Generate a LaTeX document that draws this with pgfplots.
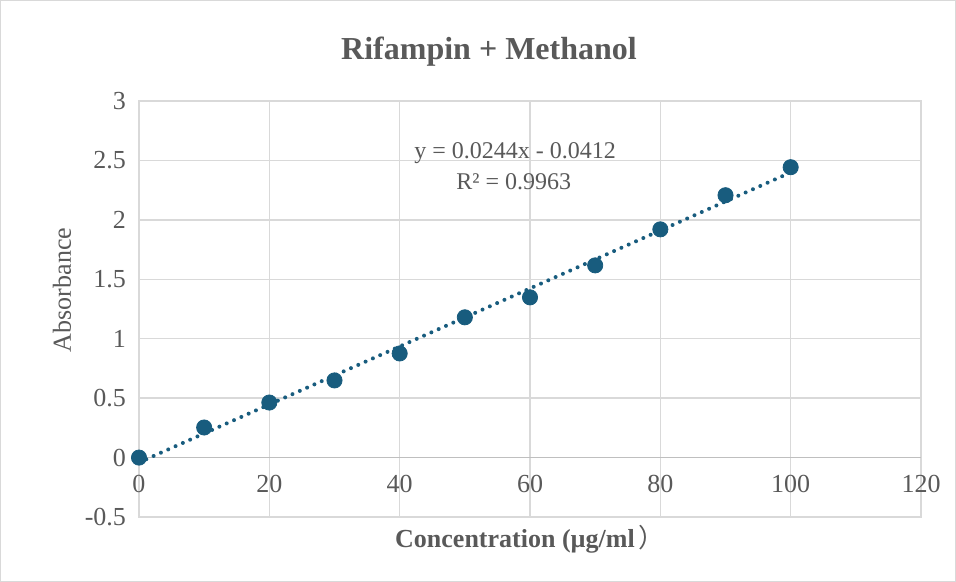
\documentclass[border=0pt]{standalone}
\usepackage{fontspec}
\setmainfont{Liberation Serif}
\newfontfamily\cjk{Noto Sans CJK SC}
\usepackage{pgfplots}
\pgfplotsset{compat=1.18}
\definecolor{txt}{HTML}{595959}
\definecolor{grd}{HTML}{D9D9D9}
\definecolor{axl}{HTML}{BFBFBF}
\definecolor{pt}{RGB}{24,92,126}

\begin{document}
\begin{tikzpicture}
\begin{axis}[
    name=ax,
    scale only axis,
    width=391pt, height=208pt,
    xmin=0, xmax=120, ymin=-0.5, ymax=3,
    xtick={0,20,...,120},
    ytick={-0.5,0,...,3},
    grid=major,
    grid style={grd, line width=0.7pt},
    axis line style={grd, line width=0.7pt},
    major tick length=0pt,
    clip=false,
    /pgf/number format/assume math mode=true,
    tick label style={font=\fontsize{13}{15}\selectfont, text=txt},
    xticklabel style={yshift=24.2pt},
    yticklabel style={xshift=-3pt},
    extra y ticks={0},
    extra y tick labels={},
    extra y tick style={grid style={axl, line width=0.9pt}},
    xlabel={\bfseries Concentration (µg/ml\hspace{2pt}\cjk{\mdseries ）}},
    xlabel style={at={(axis description cs:0.5,0)}, anchor=center, yshift=-11pt,
        font=\fontsize{13}{15}\selectfont, text=txt},
    ylabel={Absorbance},
    ylabel style={at={(axis description cs:0,0.5)}, anchor=center, yshift=38.5pt, xshift=9.5pt,
        font=\fontsize{13}{15}\selectfont, text=txt},
]
% linear trendline y = 0.0244x - 0.0412
\addplot[pt, line width=2pt, dash pattern=on 0pt off 4pt, line cap=round]
    coordinates {(0,-0.0412) (100,2.3988)};
\addplot[only marks, mark=*, mark size=3.8pt, mark options={fill=pt, draw=pt}]
    coordinates {
    (0,0) (10,0.253) (20,0.463) (30,0.649) (40,0.876) (50,1.18)
    (60,1.348) (70,1.617) (80,1.92) (90,2.207) (100,2.443)
    };
\node[font=\fontsize{12}{14}\selectfont, text=txt] at (axis cs:57.7,2.56) {y = 0.0244x - 0.0412};
\node[font=\fontsize{12}{14}\selectfont, text=txt] at (axis cs:57.5,2.318) {R² = 0.9963};
\node[font=\fontsize{16}{19}\selectfont\bfseries, text=txt] at ([yshift=24.5pt]rel axis cs:0.4476,1) {Rifampin + Methanol};
\end{axis}
\draw[grd, line width=0.6pt] ([xshift=-69.2pt,yshift=-32.2pt]ax.south west) rectangle ([xshift=17.2pt,yshift=50.2pt]ax.north east);
\end{tikzpicture}
\end{document}
